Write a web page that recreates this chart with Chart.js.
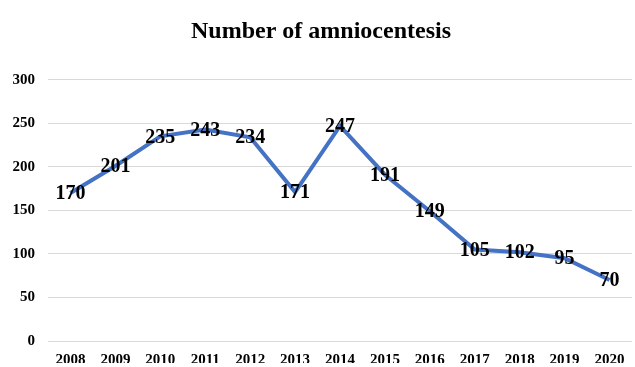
<!DOCTYPE html>
<html>
<head>
<meta charset="utf-8">
<script src="https://cdn.jsdelivr.net/npm/chart.js@4"></script>
<style>
  body { margin: 0; background: #fff; }
  #wrap { width: 635px; height: 367px; }
</style>
</head>
<body>
<div id="wrap"><canvas id="myChart"></canvas></div>
<script>
const years = ['2008', '2009', '2010', '2011', '2012', '2013', '2014',
  '2015', '2016', '2017', '2018', '2019', '2020'];
const counts = [170, 201, 235, 243, 234, 171, 247, 191, 149, 105, 102, 95, 70];

const serif = '"Liberation Serif", "Times New Roman", serif';

// draw the value on top of each point, like Excel's "center" labels
const valueLabels = {
  id: 'valueLabels',
  afterDatasetsDraw(chart) {
    const ctx = chart.ctx;
    const meta = chart.getDatasetMeta(0);
    ctx.save();
    ctx.font = 'bold 20px ' + serif;
    ctx.fillStyle = '#000';
    ctx.textAlign = 'center';
    ctx.textBaseline = 'middle';
    meta.data.forEach((pt, i) => {
      ctx.fillText(counts[i], pt.x, pt.y + 1);
    });
    ctx.restore();
  }
};

const data = {
  labels: years,
  datasets: [{
    data: counts,
    borderColor: '#4472C4',
    backgroundColor: '#4472C4',
    borderWidth: 4,
    pointRadius: 0,
    tension: 0
  }]
};

const config = {
  type: 'line',
  data: data,
  options: {
    responsive: true,
    maintainAspectRatio: false,
    animation: false,
    layout: { padding: { left: 10, right: 3, top: 7, bottom: 4 } },
    scales: {
      x: {
        offset: true,
        grid: { display: false },
        border: { display: false },
        ticks: { color: '#000', font: { family: serif, size: 15, weight: 'bold' }, maxRotation: 0, padding: 2 },
        afterFit(scale) { scale.height = 22; }
      },
      y: {
        min: 0,
        max: 300,
        grid: { color: '#d9d9d9', drawTicks: false },
        border: { display: false },
        ticks: { stepSize: 50, color: '#000', font: { family: serif, size: 15, weight: 'bold' }, padding: 13 },
        afterFit(scale) { scale.width = 38; }
      }
    },
    plugins: {
      legend: { display: false },
      tooltip: { enabled: false },
      title: {
        display: true,
        text: 'Number of amniocentesis',
        color: '#000',
        font: { family: serif, size: 24, weight: 'bold' },
        padding: { top: 10, bottom: 34 }
      }
    }
  },
  plugins: [valueLabels]
};

const myChart = new Chart(document.getElementById('myChart'), config);
</script>
</body>
</html>
